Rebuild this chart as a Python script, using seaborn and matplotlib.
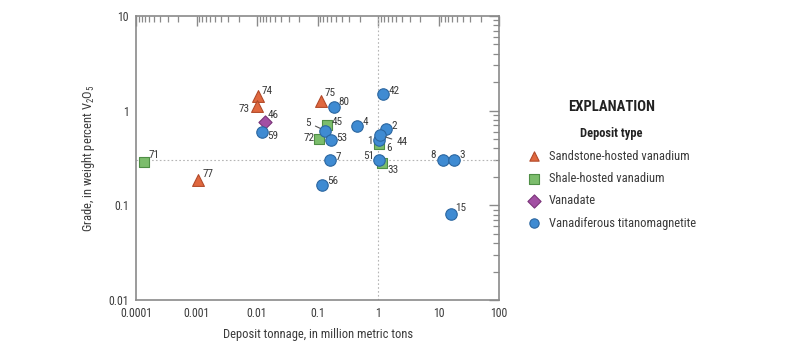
import numpy as np
import pandas as pd
import matplotlib
matplotlib.use("Agg")
import matplotlib.pyplot as plt
from matplotlib import font_manager
from matplotlib.ticker import FixedLocator, NullFormatter
import seaborn as sns

# ---- data -------------------------------------------------------------
sandstone_ids = ["74", "73", "75", "77"]
sandstone_tonnage = [0.0105, 0.0099, 0.113, 0.00107]
sandstone_grade = [1.44, 1.12, 1.28, 0.185]

shale_ids = ["71", "45", "72", "6", "33"]
shale_tonnage = [0.000137, 0.142, 0.107, 1.05, 1.18]
shale_grade = [0.285, 0.70, 0.50, 0.44, 0.28]

vanadate_ids = ["46"]
vanadate_tonnage = [0.0136]
vanadate_grade = [0.75]

vtm_ids = ["59", "80", "42", "5", "4", "2", "53", "1", "44",
           "7", "51", "8", "3", "56", "15"]
vtm_tonnage = [0.012, 0.187, 1.19, 0.133, 0.455, 1.34, 0.167, 1.02, 1.08,
               0.163, 1.04, 11.6, 18.0, 0.117, 15.7]
vtm_grade = [0.60, 1.10, 1.50, 0.615, 0.695, 0.64, 0.49, 0.49, 0.55,
             0.30, 0.30, 0.30, 0.30, 0.166, 0.082]

deposit_types = ["Sandstone-hosted vanadium", "Shale-hosted vanadium",
                 "Vanadate", "Vanadiferous titanomagnetite"]

x_ticks = [0.0001, 0.001, 0.01, 0.1, 1, 10, 100]
x_tick_labels = ["0.0001", "0.001", "0.01", "0.1", "1", "10", "100"]
y_ticks = [0.01, 0.1, 1, 10]
y_tick_labels = ["0.01", "0.1", "1", "10"]

# ---- table ------------------------------------------------------------
frames = []
for name, ids, t, g in zip(
        deposit_types,
        [sandstone_ids, shale_ids, vanadate_ids, vtm_ids],
        [sandstone_tonnage, shale_tonnage, vanadate_tonnage, vtm_tonnage],
        [sandstone_grade, shale_grade, vanadate_grade, vtm_grade]):
    frames.append(pd.DataFrame({"id": ids, "tonnage": t, "grade": g, "type": name}))
df = pd.concat(frames, ignore_index=True)

# ---- style ------------------------------------------------------------
sns.set_theme(style="white")

# pick a narrow face if one is installed
installed = {f.name for f in font_manager.fontManager.ttflist}
narrow = None
for cand in ["Liberation Sans Narrow", "Roboto Condensed", "Open Sans Condensed",
             "DejaVu Sans Condensed", "Noto Sans Condensed"]:
    if cand in installed:
        narrow = cand
        break
if narrow is None:
    narrow = "DejaVu Sans"
    plt.rcParams["font.stretch"] = "condensed"
plt.rcParams["font.family"] = [narrow, "DejaVu Sans"]
plt.rcParams["mathtext.fontset"] = "custom"
plt.rcParams["mathtext.rm"] = narrow
plt.rcParams["mathtext.it"] = narrow

text_col = "#3a3a3a"
spine_col = "#8a8a8a"

palette = {
    "Sandstone-hosted vanadium": "#e0683f",
    "Shale-hosted vanadium": "#7cbd6c",
    "Vanadate": "#a24fa3",
    "Vanadiferous titanomagnetite": "#3f8bd2",
}
edges = {
    "Sandstone-hosted vanadium": "#b24a2a",
    "Shale-hosted vanadium": "#4f8e46",
    "Vanadate": "#7a3479",
    "Vanadiferous titanomagnetite": "#2b66a0",
}
markers = {
    "Sandstone-hosted vanadium": "^",
    "Shale-hosted vanadium": "s",
    "Vanadate": "D",
    "Vanadiferous titanomagnetite": "o",
}
sizes = {
    "Sandstone-hosted vanadium": 72,
    "Shale-hosted vanadium": 52,
    "Vanadate": 45,
    "Vanadiferous titanomagnetite": 68,
}

fig = plt.figure(figsize=(8.0, 3.47), dpi=100)
ax = fig.add_axes([0.17, 0.1354, 0.454, 0.8185])

ax.set_xscale("log")
ax.set_yscale("log")
ax.set_xlim(0.0001, 100)
ax.set_ylim(0.01, 10)

# dotted reference lines
ax.axvline(1, color="#b5b5b5", lw=0.8, ls=(0, (1.5, 2)), zorder=1)
ax.axhline(0.3, color="#b5b5b5", lw=0.8, ls=(0, (1.5, 2)), zorder=1)

for dtype in deposit_types:
    sub = df[df["type"] == dtype]
    sns.scatterplot(data=sub, x="tonnage", y="grade", ax=ax,
                    marker=markers[dtype], s=sizes[dtype],
                    color=palette[dtype], edgecolor=edges[dtype],
                    linewidth=0.8, zorder=3, label=dtype)

# point labels (offsets in pixels)
label_offsets = {
    "74": (8.7, 4.7), "73": (-13, -3), "46": (7.7, 7.7), "59": (11, -4.7),
    "71": (10, 6.8), "77": (9.3, 5.7), "75": (9.3, 7.7), "80": (10.3, 5),
    "42": (11.3, 3.3), "45": (10.6, 3.3), "5": (-17, 8), "4": (8.4, 3.4),
    "2": (8.3, 3), "72": (-10.3, 1.3), "53": (10.7, 2.3), "1": (-9, -1),
    "44": (21.7, -7), "6": (9.3, -4), "51": (-10.7, 4.3), "33": (11, -6.6),
    "7": (7.4, 3.4), "8": (-9, 5), "3": (8.3, 5), "56": (11, 3.7),
    "15": (9.7, 6),
}
leader_ids = {"5", "44"}
for _, row in df.iterrows():
    dx, dy = label_offsets[row["id"]]
    kw = {}
    if row["id"] in leader_ids:
        kw["arrowprops"] = dict(arrowstyle="-", color="#555555", lw=0.8,
                                shrinkA=1, shrinkB=4)
    ax.annotate(row["id"], (row["tonnage"], row["grade"]),
                xytext=(dx, dy), textcoords="offset pixels",
                ha="center", va="center", fontsize=8, color=text_col,
                zorder=4, **kw)

# axes frame and ticks
for sp in ax.spines.values():
    sp.set_visible(True)
    sp.set_color(spine_col)
    sp.set_linewidth(1.2)

ax.xaxis.set_major_locator(FixedLocator(x_ticks))
ax.set_xticklabels(x_tick_labels)
ax.yaxis.set_major_locator(FixedLocator(y_ticks))
ax.set_yticklabels(y_tick_labels)

x_minor = [d * 10 / k for d in x_ticks[:-1] for k in range(2, 10)]
y_minor = [d * k for d in y_ticks[:-1] for k in range(2, 10)]
ax.xaxis.set_minor_locator(FixedLocator(x_minor))
ax.yaxis.set_minor_locator(FixedLocator(y_minor))
ax.xaxis.set_minor_formatter(NullFormatter())
ax.yaxis.set_minor_formatter(NullFormatter())

ax.tick_params(which="both", direction="in", top=True, right=True,
               color=spine_col, labelsize=8.5, labelcolor=text_col)
ax.tick_params(which="major", length=7, width=1.0, pad=5)
ax.tick_params(which="minor", length=4, width=0.9)

ax.set_xlabel("Deposit tonnage, in million metric tons", fontsize=9,
              color=text_col, labelpad=6)
ax.set_ylabel("Grade, in weight percent V$_2$O$_5$", fontsize=9,
              color=text_col, labelpad=8)

# explanation block
fig.text(612 / 800, 1 - 107 / 347, "EXPLANATION", ha="center", va="center",
         fontsize=10.5, fontweight="bold", color="#222222")
leg = ax.legend(loc="upper left", bbox_to_anchor=(520 / 800, 1 - 121 / 347),
                bbox_transform=fig.transFigure, frameon=False,
                title="Deposit type", fontsize=9, title_fontsize=9,
                handletextpad=0.6, labelspacing=0.75, borderpad=0,
                handlelength=1.2)
leg.get_title().set_fontweight("bold")
leg.get_title().set_color("#222222")
for t in leg.get_texts():
    t.set_color(text_col)
for h in leg.legend_handles:
    h.set_sizes([45])

fig.savefig("out.png", dpi=100, facecolor="white")
